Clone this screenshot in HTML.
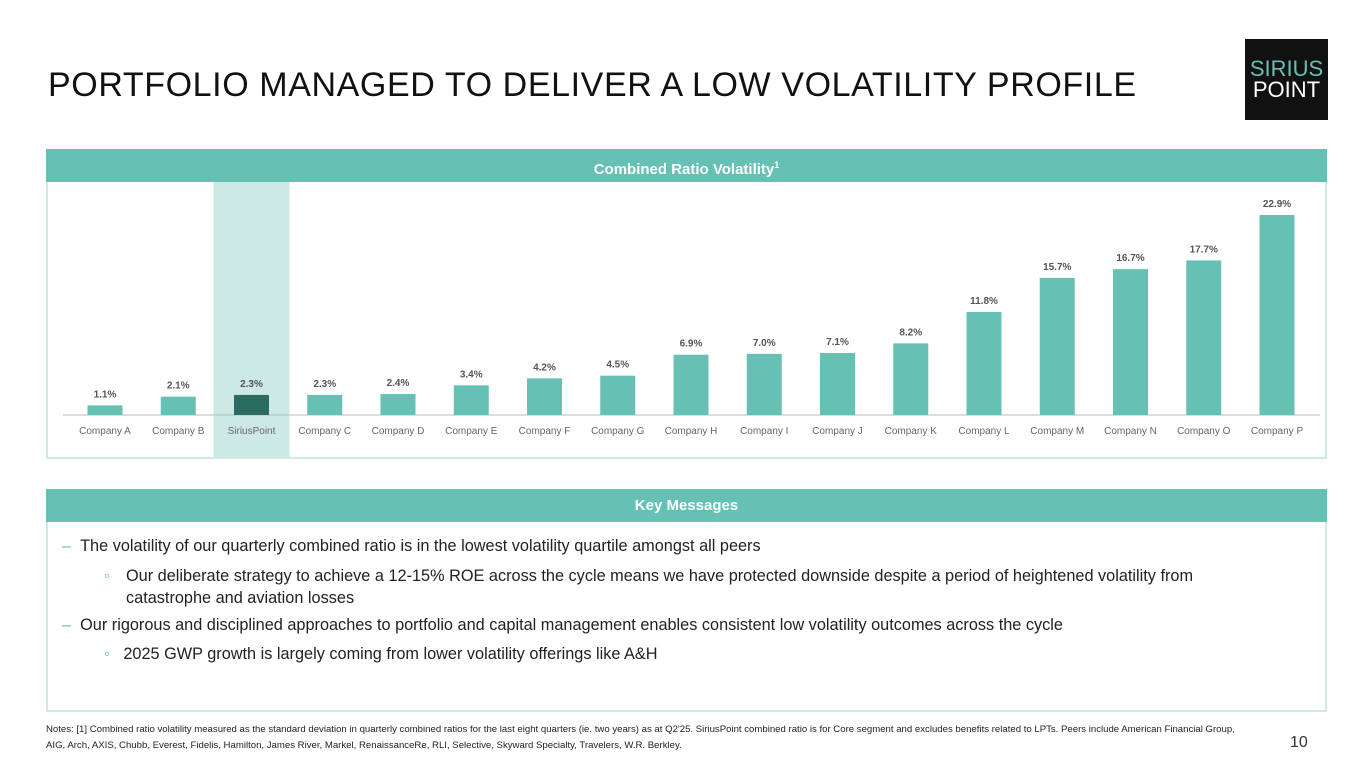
<!DOCTYPE html>
<html><head><meta charset="utf-8"><style>
body{margin:0;width:1365px;height:767px;background:#fff;font-family:"Liberation Sans",sans-serif;position:relative;overflow:hidden}
.abs{position:absolute}
.hdr{background:#66c0b4;color:#fff;font-weight:bold;font-size:15px;text-align:center;line-height:33px}
.box{border:2px solid #cfe9e5;box-sizing:border-box}
.msg{font-size:16.3px;color:#222}
</style></head><body>
<div class="abs" style="left:48px;top:66px;font-size:34px;color:#111;letter-spacing:0.6px;white-space:nowrap;font-weight:300">PORTFOLIO MANAGED TO DELIVER A LOW VOLATILITY PROFILE</div>
<div class="abs" style="left:1245px;top:39px;width:83px;height:81px;background:#111;text-align:center;font-size:22px;line-height:21px">
<div style="color:#66c0b4;margin-top:19px">SIRIUS</div><div style="color:#fff">POINT</div></div>

<div class="abs box" style="left:46px;top:149px;width:1281px;height:310px"></div>
<div class="abs hdr" style="left:46px;top:149px;width:1281px;height:33px">Combined Ratio Volatility<sup style="font-size:9px">1</sup></div>
<svg class="abs" style="left:0;top:0" width="1365" height="767" id="chart"></svg>

<div class="abs box" style="left:46px;top:489px;width:1281px;height:223px"></div>
<div class="abs hdr" style="left:46px;top:489px;width:1281px;height:33px">Key Messages</div>
<div class="abs msg" style="left:62px;top:537px"><span style="color:#66c0b4">–</span>&nbsp;&nbsp;The volatility of our quarterly combined ratio is in the lowest volatility quartile amongst all peers</div>
<div class="abs msg" style="left:104px;top:565px;width:1140px;line-height:22px"><span style="color:#66c0b4;position:absolute;left:0">◦</span><div style="margin-left:22px">Our deliberate strategy to achieve a 12-15% ROE across the cycle means we have protected downside despite a period of heightened volatility from catastrophe and aviation losses</div></div>
<div class="abs msg" style="left:62px;top:616px"><span style="color:#66c0b4">–</span>&nbsp;&nbsp;Our rigorous and disciplined approaches to portfolio and capital management enables consistent low volatility outcomes across the cycle</div>
<div class="abs msg" style="left:104px;top:645px"><span style="color:#66c0b4">◦</span>&nbsp;&nbsp;&nbsp;2025 GWP growth is largely coming from lower volatility offerings like A&amp;H</div>

<div class="abs" style="left:46px;top:722px;font-size:9.6px;color:#222;line-height:16px;width:1200px">Notes: [1] Combined ratio volatility measured as the standard deviation in quarterly combined ratios for the last eight quarters (ie. two years) as at Q2'25. SiriusPoint combined ratio is for Core segment and excludes benefits related to LPTs. Peers include American Financial Group, AIG, Arch, AXIS, Chubb, Everest, Fidelis, Hamilton, James River, Markel, RenaissanceRe, RLI, Selective, Skyward Specialty, Travelers, W.R. Berkley.</div>
<div class="abs" style="left:1290px;top:734px;font-size:16px;color:#333">10</div>
<script>
const categories=["Company A","Company B","SiriusPoint","Company C","Company D","Company E","Company F","Company G","Company H","Company I","Company J","Company K","Company L","Company M","Company N","Company O","Company P"];
const values=[1.1,2.1,2.3,2.3,2.4,3.4,4.2,4.5,6.9,7.0,7.1,8.2,11.8,15.7,16.7,17.7,22.9];
const labels=["1.1%","2.1%","2.3%","2.3%","2.4%","3.4%","4.2%","4.5%","6.9%","7.0%","7.1%","8.2%","11.8%","15.7%","16.7%","17.7%","22.9%"];
const highlight="SiriusPoint";
const svg=document.getElementById('chart');const NS="http://www.w3.org/2000/svg";
const x0=105,step=(1277-105)/(categories.length-1),base=415,scale=200/22.9,bw=35;
const xs=i=>x0+i*step, ys=v=>base-v*scale;
function mk(t,a){const e=document.createElementNS(NS,t);for(const k in a)e.setAttribute(k,a[k]);svg.appendChild(e);return e;}
categories.forEach((c,i)=>{if(c===highlight){const r=mk('rect',{x:xs(i)-38,y:182,width:76,height:275,fill:'#cce9e6'});

}});
const ax=mk('line',{x1:63,x2:1320,y1:base,y2:base,stroke:'#bbb','stroke-width':1});


categories.forEach((c,i)=>{
const b=mk('rect',{x:xs(i)-bw/2,y:ys(values[i]),width:bw,height:base-ys(values[i]),fill:c===highlight?'#2a6b62':'#66c0b4'});


const t=mk('text',{x:xs(i),y:ys(values[i])-8,'text-anchor':'middle','font-size':10,'font-weight':'bold',fill:'#555','font-family':'Liberation Sans'});t.textContent=labels[i];


const l=mk('text',{x:xs(i),y:434,'text-anchor':'middle','font-size':10,fill:'#666','font-family':'Liberation Sans'});l.textContent=c;


});
</script>
</body></html>
